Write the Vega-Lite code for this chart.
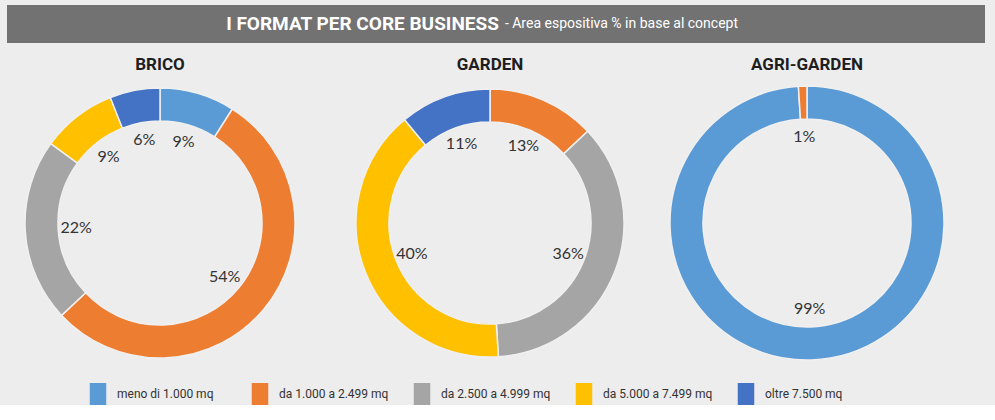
{
  "$schema": "https://vega.github.io/schema/vega-lite/v6.json",
  "background": "#ededed",
  "padding": {"left": 7, "top": 5, "right": 10, "bottom": 0},
  "datasets": {
    "shares": [
      {"format": "BRICO", "fascia": "meno di 1.000 mq", "k": 1, "quota": 0.09},
      {"format": "BRICO", "fascia": "da 1.000 a 2.499 mq", "k": 2, "quota": 0.54},
      {"format": "BRICO", "fascia": "da 2.500 a 4.999 mq", "k": 3, "quota": 0.22},
      {"format": "BRICO", "fascia": "da 5.000 a 7.499 mq", "k": 4, "quota": 0.09},
      {"format": "BRICO", "fascia": "oltre 7.500 mq", "k": 5, "quota": 0.06},
      {"format": "GARDEN", "fascia": "da 1.000 a 2.499 mq", "k": 2, "quota": 0.13},
      {"format": "GARDEN", "fascia": "da 2.500 a 4.999 mq", "k": 3, "quota": 0.36},
      {"format": "GARDEN", "fascia": "da 5.000 a 7.499 mq", "k": 4, "quota": 0.40},
      {"format": "GARDEN", "fascia": "oltre 7.500 mq", "k": 5, "quota": 0.11},
      {"format": "AGRI-GARDEN", "fascia": "meno di 1.000 mq", "k": 1, "quota": 0.99},
      {"format": "AGRI-GARDEN", "fascia": "da 1.000 a 2.499 mq", "k": 2, "quota": 0.01}
    ],
    "header": [
      {"parte": "I FORMAT PER CORE BUSINESS", "tipo": "main"},
      {"parte": "- Area espositiva % in base al concept", "tipo": "sub"}
    ]
  },
  "vconcat": [
    {
      "width": 978,
      "height": 38,
      "view": {"fill": "#727272", "stroke": null},
      "data": {"name": "header"},
      "layer": [
        {
          "transform": [{"filter": "datum.tipo === 'main'"}],
          "mark": {"type": "text", "align": "right", "baseline": "middle", "font": "Roboto", "fontWeight": "bold", "fontSize": 19, "color": "#ffffff", "dx": -2},
          "encoding": {
            "x": {"datum": 0.505, "type": "quantitative", "scale": {"domain": [0, 1]}, "axis": null},
            "y": {"datum": 0.5, "type": "quantitative", "scale": {"domain": [0, 1]}, "axis": null},
            "text": {"field": "parte"}
          }
        },
        {
          "transform": [{"filter": "datum.tipo === 'sub'"}],
          "mark": {"type": "text", "align": "left", "baseline": "middle", "font": "Roboto", "fontSize": 14, "color": "#ffffff", "dx": 4},
          "encoding": {
            "x": {"datum": 0.505, "type": "quantitative", "scale": {"domain": [0, 1]}, "axis": null},
            "y": {"datum": 0.5, "type": "quantitative", "scale": {"domain": [0, 1]}, "axis": null},
            "text": {"field": "parte"}
          }
        }
      ]
    },
    {
      "data": {"name": "shares"},
      "spacing": 20,
      "hconcat": [
        {
          "width": 306, "height": 282,
          "title": "BRICO",
          "transform": [{"filter": "datum.format === 'BRICO'"}],
          "encoding": {
            "theta": {"field": "quota", "type": "quantitative", "stack": true},
            "order": {"field": "k", "type": "quantitative"},
            "color": {"field": "fascia", "type": "nominal", "scale": {"domain": ["meno di 1.000 mq", "da 1.000 a 2.499 mq", "da 2.500 a 4.999 mq", "da 5.000 a 7.499 mq", "oltre 7.500 mq"], "range": ["#5b9bd5", "#ed7d31", "#a5a5a5", "#ffc000", "#4472c4"]}}
          },
          "layer": [
            {"mark": {"type": "arc", "outerRadius": 135, "innerRadius": 102, "stroke": "#f0f0f0", "strokeWidth": 1.5}},
            {"mark": {"type": "text", "radius": 84, "fontSize": 16, "font": "Lato", "color": "#333333"},
             "encoding": {"text": {"field": "quota", "type": "quantitative", "format": ".0%"}, "color": {"value": "#333333"}}}
          ]
        },
        {
          "width": 314, "height": 282,
          "title": "GARDEN",
          "transform": [{"filter": "datum.format === 'GARDEN'"}],
          "encoding": {
            "theta": {"field": "quota", "type": "quantitative", "stack": true},
            "order": {"field": "k", "type": "quantitative"},
            "color": {"field": "fascia", "type": "nominal", "scale": {"domain": ["meno di 1.000 mq", "da 1.000 a 2.499 mq", "da 2.500 a 4.999 mq", "da 5.000 a 7.499 mq", "oltre 7.500 mq"], "range": ["#5b9bd5", "#ed7d31", "#a5a5a5", "#ffc000", "#4472c4"]}}
          },
          "layer": [
            {"mark": {"type": "arc", "outerRadius": 134, "innerRadius": 101, "stroke": "#f0f0f0", "strokeWidth": 1.5}},
            {"mark": {"type": "text", "radius": 84, "fontSize": 16, "font": "Lato", "color": "#333333"},
             "encoding": {"text": {"field": "quota", "type": "quantitative", "format": ".0%"}, "color": {"value": "#333333"}}}
          ]
        },
        {
          "width": 276, "height": 282,
          "title": "AGRI-GARDEN",
          "transform": [{"filter": "datum.format === 'AGRI-GARDEN'"}],
          "encoding": {
            "theta": {"field": "quota", "type": "quantitative", "stack": true},
            "order": {"field": "k", "type": "quantitative"},
            "color": {"field": "fascia", "type": "nominal", "scale": {"domain": ["meno di 1.000 mq", "da 1.000 a 2.499 mq", "da 2.500 a 4.999 mq", "da 5.000 a 7.499 mq", "oltre 7.500 mq"], "range": ["#5b9bd5", "#ed7d31", "#a5a5a5", "#ffc000", "#4472c4"]}}
          },
          "layer": [
            {"mark": {"type": "arc", "outerRadius": 137, "innerRadius": 104, "stroke": "#f0f0f0", "strokeWidth": 1.5}},
            {"mark": {"type": "text", "radius": 86, "fontSize": 16, "font": "Lato", "color": "#333333"},
             "encoding": {"text": {"field": "quota", "type": "quantitative", "format": ".0%"}, "color": {"value": "#333333"}}}
          ]
        }
      ]
    }
  ],
  "spacing": 13,
  "resolve": {"scale": {"color": "shared"}},
  "config": {
    "view": {"stroke": null},
    "title": {"font": "Roboto", "fontSize": 17, "fontWeight": "bold", "color": "#1e1e1e", "anchor": "middle", "offset": 8},
    "legend": {
      "orient": "none",
      "legendX": 80,
      "legendY": 378,
      "direction": "horizontal",
      "title": null,
      "columns": 5,
      "gridAlign": "all",
      "symbolType": "M-0.75,-1H0.75V1H-0.75Z",
      "symbolSize": 484,
      "symbolStrokeWidth": 0,
      "labelFont": "Roboto",
      "labelFontSize": 12,
      "labelColor": "#333333",
      "labelOffset": 8,
      "labelLimit": 200,
      "columnPadding": 22
    }
  },
  "encoding": {}
}
